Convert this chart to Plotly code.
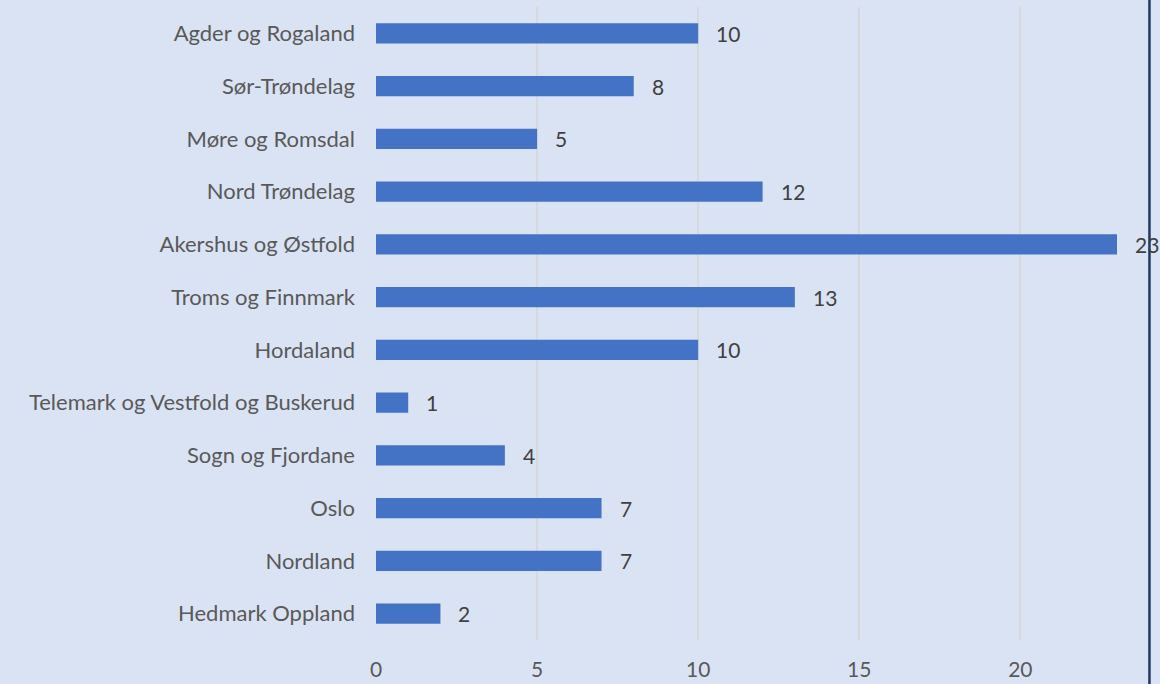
import plotly.graph_objects as go

categories = ["Agder og Rogaland", "Sør-Trøndelag", "Møre og Romsdal", "Nord Trøndelag",
              "Akershus og Østfold", "Troms og Finnmark", "Hordaland",
              "Telemark og Vestfold og Buskerud", "Sogn og Fjordane", "Oslo",
              "Nordland", "Hedmark Oppland"]
values = [10, 8, 5, 12, 23, 13, 10, 1, 4, 7, 7, 2]
x_ticks = [0, 5, 10, 15, 20]

BG = "#dae3f3"
FONT = "Lato, 'Open Sans', sans-serif"

fig = go.Figure()
fig.add_trace(go.Bar(
    y=categories, x=values, orientation="h",
    marker=dict(color="#4472c4", line=dict(width=0)),
    width=0.38, hoverinfo="x+y",
))
for c, v in zip(categories, values):
    fig.add_annotation(x=v, y=c, text=str(v), showarrow=False, xanchor="left",
                       xshift=16, font=dict(family=FONT, size=21, color="#404040"))

fig.add_shape(type="line", xref="paper", yref="paper", x0=1.0045, x1=1.0045, y0=-0.1, y1=1.02,
              line=dict(color="#1f3864", width=2.5), layer="above")

fig.update_layout(
    width=1160, height=684,
    margin=dict(l=376, r=14, t=7, b=44),
    paper_bgcolor=BG, plot_bgcolor=BG,
    showlegend=False, bargap=0.62,
    font=dict(family=FONT, size=22, color="#595959"),
    xaxis=dict(range=[0, 23.9], tickvals=x_ticks, showgrid=True, gridcolor="#d8d9dc",
               gridwidth=2, zeroline=False, showline=False, ticks="", automargin=False,
               ticklabelstandoff=15, tickfont=dict(size=21, color="#595959")),
    yaxis=dict(autorange="reversed", showgrid=False, zeroline=False, showline=False,
               ticks="", ticklabelstandoff=20, automargin=False,
               tickfont=dict(size=22, color="#595959")),
)
fig.write_html("out.html", config={"displayModeBar": False},
               post_script="document.body.style.margin='0';document.body.style.background='#dae3f3';")
